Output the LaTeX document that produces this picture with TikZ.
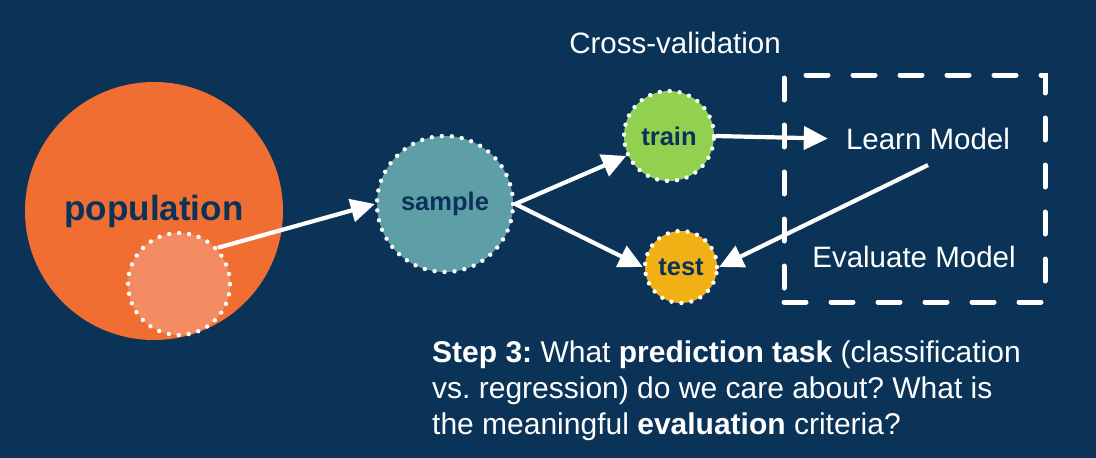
\documentclass[tikz,border=0pt]{standalone}
\usepackage{fontspec}
\setmainfont{Liberation Sans}
\usetikzlibrary{arrows.meta}
\definecolor{bg}{HTML}{0B3358}
\definecolor{navy}{HTML}{0B3258}
\definecolor{popc}{HTML}{F06E32}
\definecolor{subc}{HTML}{F38C62}
\definecolor{tealc}{HTML}{5E9EA6}
\definecolor{greenc}{HTML}{92D050}
\definecolor{goldc}{HTML}{F1B114}
\frenchspacing
\begin{document}
\begin{tikzpicture}[x=1pt,y=-1pt,
  dotc/.style={circle, draw=white, line width=4.4pt, dash pattern=on 0pt off 10pt, line cap=round, inner sep=0pt},
  lbl/.style={font=\bfseries\fontsize{25.5}{30}\selectfont, text=navy},
  arr/.style={draw=white, line width=4.2pt, -{Triangle[length=24pt,width=23pt]}},
  plain/.style={text=white, inner sep=0pt, font=\fontsize{29.5}{35}\selectfont}]
\fill[bg] (0,0) rectangle (1096,458);
\useasboundingbox (0,0) rectangle (1096,458);
% population
\node[circle, fill=popc, minimum size=258pt, inner sep=0pt, text=navy,
      font=\bfseries\fontsize{35}{40}\selectfont] (pop) at (154,211) {population};
\node[dotc, fill=subc, minimum size=102pt] (sub) at (179,284) {};
% sample, train, test
\node[dotc, fill=tealc, minimum size=136pt, lbl] (sample) at (445,204) {sample};
\node[dotc, fill=greenc, minimum size=90pt, lbl] (train) at (669,136) {train};
\node[dotc, fill=goldc, minimum size=72pt, lbl] (test) at (681,267) {test};
% dashed box
\node[draw=white, line width=5pt, dash pattern=on 22pt off 25pt, line cap=round,
      minimum width=261pt, minimum height=227pt, inner sep=0pt] (box) at (914.5,188.5) {};
% labels
\node[plain] (cv) at (675,43) {Cross-validation};
\node[plain] (learn) at (928,139) {Learn Model};
\node[plain] (eval) at (914,257) {Evaluate Model};
% arrows
\draw[arr] (sub.43) -- (sample.west);
\draw[arr] (sample.east) -- (train.205);
\draw[arr] (sample.east) -- (test.west);
\draw[arr, shorten >=18pt] (train.east) -- (learn.west);
\draw[arr] ([yshift=-15pt]learn.south) -- (test.east);
% step text
\node[anchor=north west, align=left, text=white, inner sep=0pt,
      font=\fontsize{30}{36}\selectfont] (step) at (432,341)
  {\textbf{Step 3:} What \textbf{prediction task} (classification\\
   vs. regression) do we care about? What is\\
   the meaningful \textbf{evaluation} criteria?};
\end{tikzpicture}
\end{document}
